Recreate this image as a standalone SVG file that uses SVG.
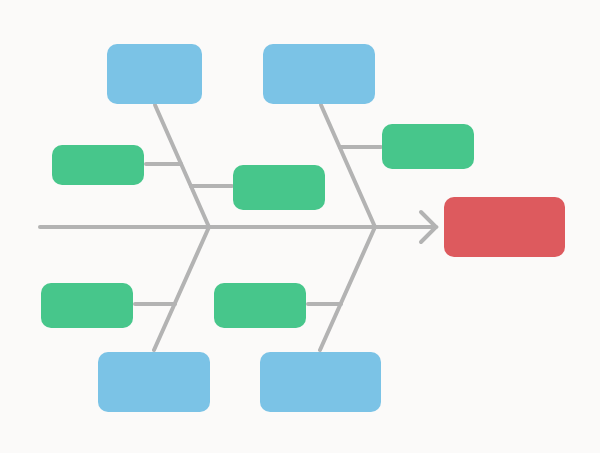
<svg xmlns="http://www.w3.org/2000/svg" width="600" height="453" viewBox="0 0 600 453">
<style>
.b{fill:#7bc3e6}.g{fill:#47c68b}.r{fill:#dd5a5e}
.l{stroke:#b3b3b3;stroke-width:4;fill:none;stroke-linecap:round}
</style>
<rect width="600" height="453" fill="#fbfaf9"/>
<g id="connectors">
<line class="l" x1="40" y1="227" x2="436" y2="227"/>
<polyline class="l" points="421,212 436,227 421,242"/>
<line class="l" x1="155" y1="105" x2="209" y2="227"/>
<line class="l" x1="321" y1="105" x2="375" y2="227"/>
<line class="l" x1="209" y1="227" x2="154" y2="350"/>
<line class="l" x1="375" y1="227" x2="320" y2="350"/>
<line class="l" x1="146" y1="164" x2="181" y2="164"/>
<line class="l" x1="191" y1="186" x2="232" y2="186"/>
<line class="l" x1="340" y1="147" x2="381" y2="147"/>
<line class="l" x1="135" y1="304" x2="175" y2="304"/>
<line class="l" x1="308" y1="304" x2="341" y2="304"/>
</g>
<g id="effect"><rect class="r" x="444" y="197" width="121" height="60" rx="10"/></g>
<g id="cat1"><rect class="b" x="107" y="44" width="95" height="60" rx="10"/></g>
<g id="cat2"><rect class="b" x="263" y="44" width="112" height="60" rx="10"/></g>
<g id="cat3"><rect class="b" x="98" y="352" width="112" height="60" rx="10"/></g>
<g id="cat4"><rect class="b" x="260" y="352" width="121" height="60" rx="10"/></g>
<g id="cause1"><rect class="g" x="52" y="145" width="92" height="40" rx="10"/></g>
<g id="cause2"><rect class="g" x="233" y="165" width="92" height="45" rx="10"/></g>
<g id="cause3"><rect class="g" x="382" y="124" width="92" height="45" rx="10"/></g>
<g id="cause4"><rect class="g" x="41" y="283" width="92" height="45" rx="10"/></g>
<g id="cause5"><rect class="g" x="214" y="283" width="92" height="45" rx="10"/></g>
</svg>
